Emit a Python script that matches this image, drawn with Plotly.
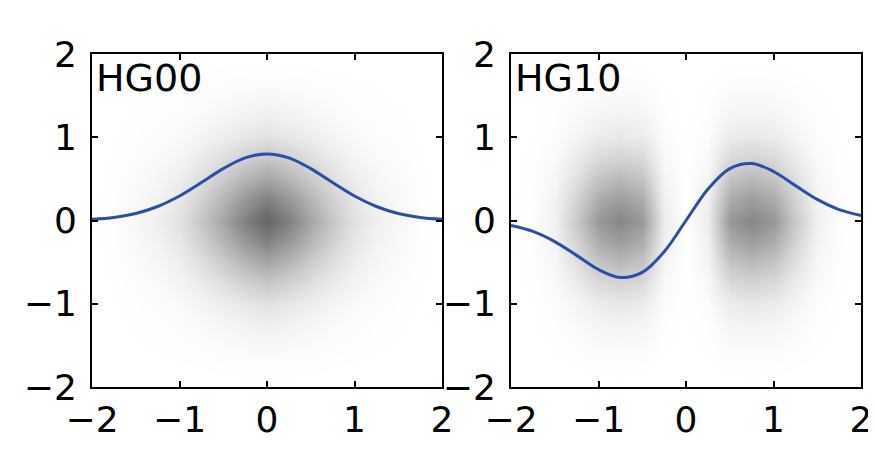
import plotly.graph_objects as go

# --- data ---
grid = [-2.0, -1.75, -1.5, -1.25, -1.0, -0.75, -0.5, -0.25, 0.0,
        0.25, 0.5, 0.75, 1.0, 1.25, 1.5, 1.75, 2.0]

# blue line profiles (field amplitude)
hg00_line = [0.015, 0.037, 0.084, 0.168, 0.294, 0.456, 0.623, 0.753, 0.80,
             0.753, 0.623, 0.456, 0.294, 0.168, 0.084, 0.037, 0.015]
hg10_line = [-0.06, -0.131, -0.253, -0.419, -0.589, -0.684, -0.623, -0.376, 0.0,
             0.376, 0.623, 0.684, 0.589, 0.419, 0.253, 0.131, 0.06]

# shading (intensity) profiles along x and y
y_profile = [0.0, 0.01, 0.05, 0.10, 0.19, 0.36, 0.58, 0.82, 1.0,
             0.82, 0.58, 0.36, 0.19, 0.10, 0.05, 0.01, 0.0]
hg00_x_profile = [0.0, 0.01, 0.05, 0.10, 0.19, 0.36, 0.58, 0.82, 1.0,
                  0.82, 0.58, 0.36, 0.19, 0.10, 0.05, 0.01, 0.0]
hg10_x_profile = [0.0, 0.02, 0.12, 0.45, 0.85, 1.0, 0.85, 0.15, 0.0,
                  0.15, 0.85, 1.0, 0.85, 0.45, 0.12, 0.02, 0.0]
hg00_peak = 1.0
hg10_peak = 0.78

tick_vals = [-2, -1, 0, 1, 2]
tick_text = ["\u22122", "\u22121", "0", "1", "2"]
titles = ["HG00", "HG10"]

z00 = [[hg00_peak * py * px for px in hg00_x_profile] for py in y_profile]
z10 = [[hg10_peak * py * px for px in hg10_x_profile] for py in y_profile]

colorscale = [[0.0, "rgb(255,255,255)"], [1.0, "rgb(100,100,102)"]]
line_color = "#2b4ea6"

fig = go.Figure()
for i, (z, ln) in enumerate([(z00, hg00_line), (z10, hg10_line)]):
    xa = "x" if i == 0 else "x2"
    ya = "y" if i == 0 else "y2"
    fig.add_trace(go.Heatmap(x=grid, y=grid, z=z, colorscale=colorscale,
                             zmin=0, zmax=1, zsmooth="best", showscale=False,
                             xaxis=xa, yaxis=ya, hoverinfo="skip"))
    fig.add_trace(go.Scatter(x=grid, y=ln, mode="lines",
                             line=dict(color=line_color, width=3, shape="spline"),
                             xaxis=xa, yaxis=ya, showlegend=False))

axis_style = dict(range=[-2, 2], tickvals=tick_vals, ticktext=tick_text,
                  showline=True, linewidth=2, linecolor="black", mirror="ticks",
                  ticks="inside", ticklen=6, tickwidth=1.5, tickcolor="black",
                  showgrid=False, zeroline=False, automargin=False,
                  tickfont=dict(family="DejaVu Sans", size=36, color="black"))

# page body has an 8px margin, so the figure is 8px smaller than the window
FIG_W, FIG_H = 868, 450
L, R, T, B = 84, 15, 46, 71
W = FIG_W - L - R
d1 = 350 / W
d2 = (511 - 92) / W
fig.update_layout(
    width=FIG_W, height=FIG_H,
    margin=dict(l=L, r=R, t=T, b=B),
    paper_bgcolor="white", plot_bgcolor="white",
    showlegend=False,
    xaxis=dict(domain=[0, d1], anchor="y", **axis_style),
    yaxis=dict(domain=[0, 1], anchor="x", ticklabelstandoff=6, **axis_style),
    xaxis2=dict(domain=[d2, 1], anchor="y2", **axis_style),
    yaxis2=dict(domain=[0, 1], anchor="x2", ticklabelstandoff=6, **axis_style),
)

for i, t in enumerate(titles):
    fig.add_annotation(text=t, xref=("x domain" if i == 0 else "x2 domain"),
                       yref=("y domain" if i == 0 else "y2 domain"),
                       x=0.0, y=1.0, xanchor="left", yanchor="top",
                       showarrow=False, xshift=2,
                       font=dict(family="DejaVu Sans", size=38, color="black"))

fig.write_html("out.html")
